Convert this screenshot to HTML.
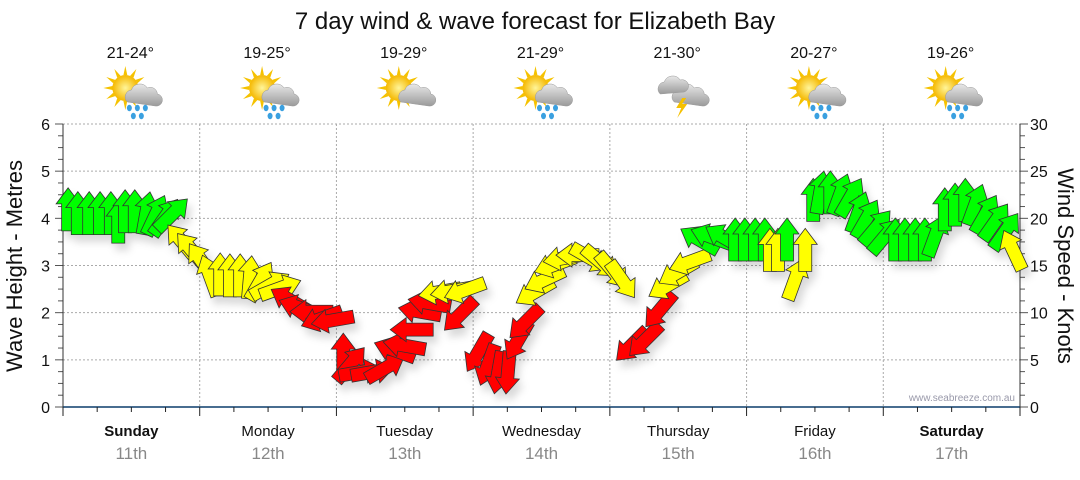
<!DOCTYPE html>
<html><head><meta charset="utf-8"><style>
body{margin:0;background:#fff;font-family:"Liberation Sans",sans-serif}
svg text{font-family:"Liberation Sans",sans-serif}
</style></head><body>
<svg id="c" width="1080" height="475">
<defs>
<filter id="sh" x="-50%" y="-50%" width="200%" height="200%"><feDropShadow dx="4" dy="7" stdDeviation="4" flood-color="#000" flood-opacity="0.15"/></filter>
<radialGradient id="sun" cx="0.5" cy="0.5" r="0.5"><stop offset="0" stop-color="#fff59a"/><stop offset="1" stop-color="#f5b800"/></radialGradient>
<linearGradient id="cloud" x1="0" y1="0" x2="0" y2="1"><stop offset="0" stop-color="#e8e8e8"/><stop offset="1" stop-color="#9a9a9a"/></linearGradient>
</defs>
<text x="535" y="29" text-anchor="middle" font-size="24" fill="#111">7 day wind &amp; wave forecast for Elizabeth Bay</text>
<g id="grid"></g><g id="axes"></g><g id="days"></g><g id="icons"></g>
<g id="arrows" filter="url(#sh)"></g>
<text x="0" y="0" transform="translate(22,266) rotate(-90)" text-anchor="middle" font-size="22" fill="#111">Wave Height - Metres</text>
<text x="0" y="0" transform="translate(1058,266) rotate(90)" text-anchor="middle" font-size="22" fill="#111">Wind Speed - Knots</text>
<text x="1015" y="401" text-anchor="end" font-size="10" fill="#99a">www.seabreeze.com.au</text>
</svg>
<script>
const dayNames=["Sunday","Monday","Tuesday","Wednesday","Thursday","Friday","Saturday"];
const dayDates=["11th","12th","13th","14th","15th","16th","17th"];
const temps=["21-24°","19-25°","19-29°","21-29°","21-30°","20-27°","19-26°"];
const iconTypes=["rain","rain","cloud","rain","storm","rain","rain"];
const waveTicks=[0,1,2,3,4,5,6];
const windTicks=[0,5,10,15,20,25,30];
const windHours=[0.9,2.6,4.6,6.5,8.4,9.7,10.9,12.6,14.6,16.2,17.9,19.1,
 20.9,22.6,24.4,25.8,27.6,29.3,31.1,32.8,34.6,36.3,38.1,
 39.9,41.6,43.7,45.5,47.4,
 49.2,50.4,52.1,54.2,56.5,58.3,60.0,61.3,62.7,64.4,66.2,68.3,69.7,70.6,
 72.9,74.6,76.4,78.1,79.9,81.2,82.9,84.6,86.4,88.1,90.4,92.5,94.3,96.4,98.1,
 99.9,102.2,104.8,106.2,108.0,110.1,111.8,113.9,116.2,118.0,119.7,121.5,123.2,
 124.1,125.5,127.1,128.5,130.3,131.7,132.9,134.7,136.4,138.2,139.6,141.0,142.7,144.3,
 146.1,147.8,149.6,151.3,153.1,154.8,156.6,158.4,160.1,161.9,163.6,165.4,166.8];
const windSpeed=[20.9,20.5,20.5,20.5,20.5,19.6,20.7,20.7,20.5,20.3,20.1,20.4,
 17.5,16.6,15.4,13.9,14.0,13.9,13.9,13.7,13.3,12.9,12.6,
 11.3,10.5,10.1,9.4,9.2,
 5.5,4.5,3.7,3.7,4.1,6.0,6.5,8.2,10.1,11.0,12.2,12.3,9.8,12.4,
 5.8,4.5,3.7,3.7,7.1,9.0,12.2,13.5,15.1,15.8,16.1,15.8,15.4,14.5,13.5,
 6.6,7.1,10.3,12.9,14.3,15.4,17.7,18.0,17.9,17.7,17.7,17.7,17.7,
 16.6,16.6,17.7,13.5,16.6,21.9,22.7,22.7,22.5,22.2,20.6,19.9,19.0,18.1,
 17.7,17.7,17.7,17.7,18.1,20.9,21.4,21.9,21.4,20.4,19.6,18.6,16.6];
const windDir=[0,0,0,0,0,0,0,0,10,25,35,45,
 -40,-40,-35,-20,0,0,0,5,30,60,70,
 -60,-70,-90,-110,-100,
 0,40,80,80,60,-70,-80,-90,-80,-80,-100,-100,225,-110,
 210,200,190,185,210,225,240,245,250,260,-90,120,130,140,145,
 225,225,220,240,240,250,-60,-70,-60,0,0,0,0,
 0,0,0,20,0,0,10,0,20,30,20,30,40,40,
 0,0,0,0,20,0,0,0,20,30,35,35,-25];
const X0=63,X1=1020,Y0=407,Y1=124;
const xs=h=>X0+(X1-X0)*h/168;
const yw=m=>Y0-(Y0-Y1)*m/6;
const yk=k=>Y0-(Y0-Y1)*k/30;
const NS="http://www.w3.org/2000/svg";
function mk(t,a,p){const e=document.createElementNS(NS,t);for(const k in a)e.setAttribute(k,a[k]);p.appendChild(e);return e;}
const grid=document.getElementById('grid'),axes=document.getElementById('axes'),days=document.getElementById('days'),icons=document.getElementById('icons'),arr=document.getElementById('arrows');
waveTicks.forEach(v=>{
 if(v>0){const g=mk('line',{x1:X0,x2:X1,y1:yw(v),y2:yw(v),stroke:'#aaa','stroke-dasharray':'2,2'},grid);
 
 }
 const t=mk('text',{x:50,y:yw(v)+6,'text-anchor':'end','font-size':16,fill:'#111'},axes);t.textContent=v;
 
 
});
windTicks.forEach(v=>{const t=mk('text',{x:1030,y:yk(v)+6,'font-size':16,fill:'#111'},axes);t.textContent=v;
 
 });
for(let i=0;i<=24;i++){const y=Y0-(Y0-Y1)*i/24;const w=i%4==0?8:5;
 mk('line',{x1:X0-w,x2:X0,y1:y,y2:y,stroke:'#555'},axes);
 mk('line',{x1:X1,x2:X1+w,y1:y,y2:y,stroke:'#555'},axes);}
mk('line',{x1:X0,x2:X0,y1:Y1,y2:Y0,stroke:'#333'},axes);
mk('line',{x1:X1,x2:X1,y1:Y1,y2:Y0,stroke:'#333'},axes);
mk('line',{x1:X0,x2:X1,y1:Y0,y2:Y0,stroke:'#0b3d6b','stroke-width':1.5},axes);
for(let h=0;h<=168;h+=6){const x=xs(h);const big=h%24==0;
 mk('line',{x1:x,x2:x,y1:Y0,y2:Y0+(big?9:5),stroke:'#222'},axes);}
for(let d=1;d<7;d++){const g=mk('line',{x1:xs(d*24),x2:xs(d*24),y1:Y1,y2:Y0,stroke:'#aaa','stroke-dasharray':'2,2'},grid);
 
 }
function icon(cx,cy,type,g){
 if(type!='storm'){for(let i=0;i<12;i++){const a=i*Math.PI/6;mk('polygon',{points:`${cx-8+Math.cos(a-0.15)*13},${cy-4+Math.sin(a-0.15)*13} ${cx-8+Math.cos(a)*22},${cy-4+Math.sin(a)*22} ${cx-8+Math.cos(a+0.15)*13},${cy-4+Math.sin(a+0.15)*13}`,fill:'#f5c200'},g);}
 mk('circle',{cx:cx-8,cy:cy-4,r:13,fill:'url(#sun)'},g);}
 mk('path',{d:`M${cx-6},${cy+10} a7,7 0 0 1 4,-12 a9,9 0 0 1 16,-2 a7,7 0 0 1 10,6 a6,6 0 0 1 -2,12 z`,fill:'url(#cloud)',stroke:'#999','stroke-width':0.5},g);
 if(type=='storm'){mk('path',{d:`M${cx-20},${cy+2} a7,7 0 0 1 4,-12 a9,9 0 0 1 16,-2 a6,6 0 0 1 4,12 z`,fill:'url(#cloud)',stroke:'#999','stroke-width':0.5},g);
  mk('polygon',{points:`${cx+2},${cy+6} ${cx-4},${cy+16} ${cx+1},${cy+16} ${cx-3},${cy+26} ${cx+7},${cy+12} ${cx+2},${cy+12} ${cx+6},${cy+6}`,fill:'#f5c000'},g);}
 if(type=='rain'){[[-4,16],[4,16],[12,16],[0,24],[8,24]].forEach(p=>mk('ellipse',{cx:cx+p[0],cy:cy+p[1],rx:2.5,ry:3.2,fill:'#3aa0e0'},g));}
}
for(let d=0;d<7;d++){const cx=xs(d*24+12);
 const n=mk('text',{x:cx,y:436,'text-anchor':'middle','font-size':15,fill:'#111','font-weight':(d==0||d==6)?'bold':'normal'},days);n.textContent=dayNames[d];
 
 
 const dt=mk('text',{x:cx,y:459,'text-anchor':'middle','font-size':17,fill:'#888'},days);dt.textContent=dayDates[d];
 
 
 const tt=mk('text',{x:cx-1,y:58,'text-anchor':'middle','font-size':16,fill:'#111'},icons);tt.textContent=temps[d];
 
 
 const g=mk('g',{},icons);
 
 
 icon(cx+2,92,iconTypes[d],g);}
function col(k){return k<12?'#ff0000':(k<17.6?'#ffff00':'#00ff00');}
windHours.forEach((h,i)=>{const x=xs(h),y=yk(windSpeed[i]);
 const p=mk('polygon',{points:'0,-22 12,-6 6.5,-6 6.5,21 -6.5,21 -6.5,-6 -12,-6',fill:col(windSpeed[i]),stroke:'#333','stroke-width':0.8,'stroke-linejoin':'miter',transform:`translate(${x},${y}) rotate(${windDir[i]})`},arr);
 
 
});
</script>
</body></html>
